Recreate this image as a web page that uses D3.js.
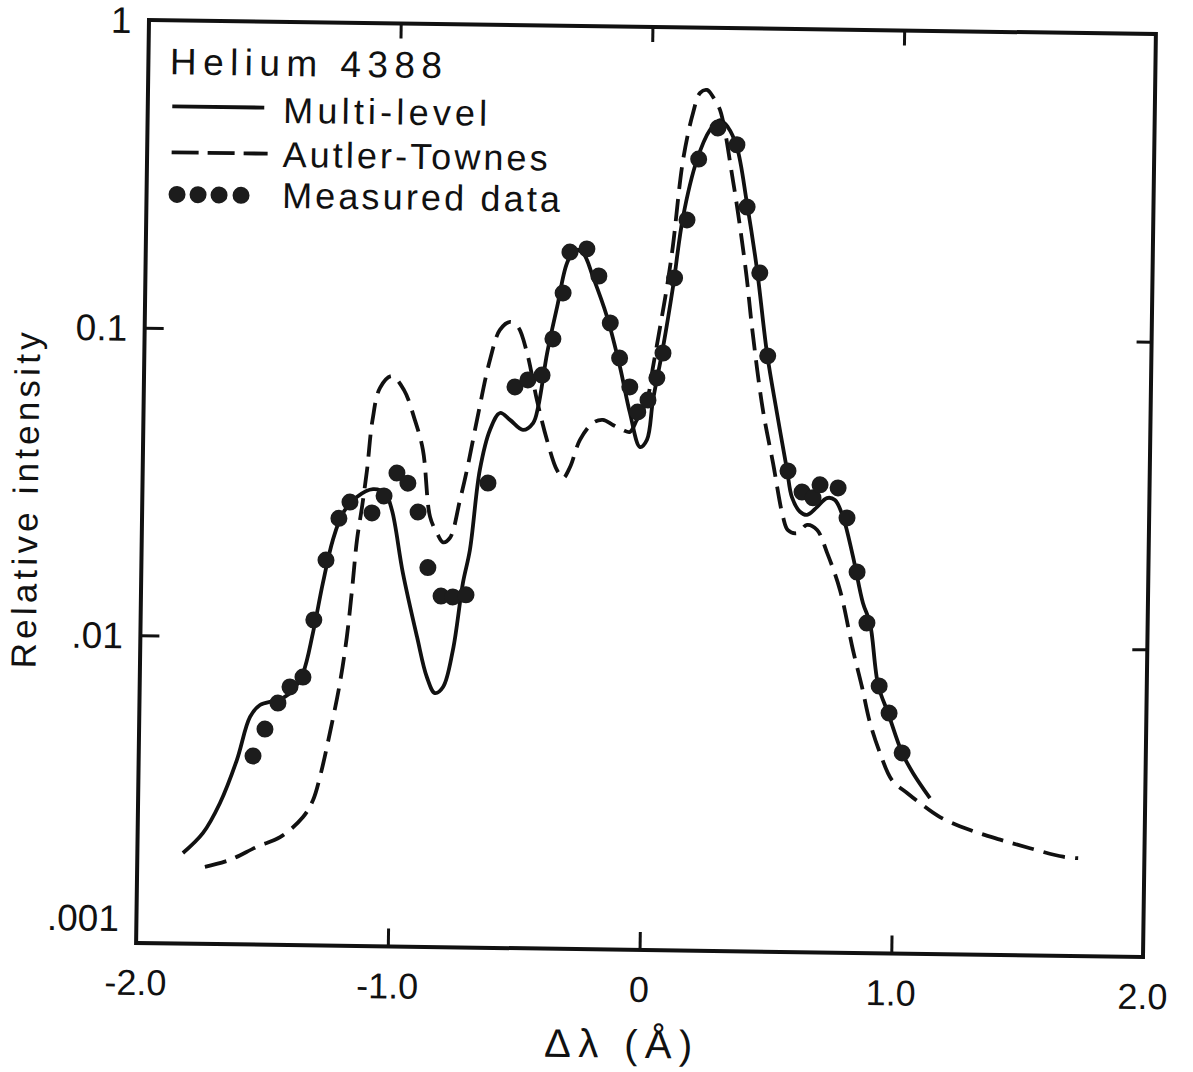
<!DOCTYPE html>
<html>
<head>
<meta charset="utf-8">
<script src="https://cdn.jsdelivr.net/npm/d3@7"></script>
<style>
  body { margin: 0; background: #fff; }
  svg { display: block; }
  text { font-family: "Liberation Sans", Arial, sans-serif; fill: #111; }
</style>
</head>
<body>
<svg id="chart" width="1193" height="1072"></svg>
<script>
// Helium 4388 line profile
var multiLevel = [
  [-1.819, 0.00197], [-1.741, 0.00229], [-1.675, 0.00287], [-1.610, 0.00397],
  [-1.560, 0.00549], [-1.521, 0.00601], [-1.470, 0.00620], [-1.430, 0.00635],
  [-1.391, 0.00675], [-1.352, 0.00767], [-1.315, 0.01035], [-1.278, 0.01508],
  [-1.241, 0.0208], [-1.202, 0.0255], [-1.148, 0.0288], [-1.084, 0.0306],
  [-1.036, 0.0297], [-1.008, 0.0262], [-0.961, 0.0164], [-0.901, 0.01016],
  [-0.860, 0.00754], [-0.827, 0.00669], [-0.795, 0.00701], [-0.758, 0.00925],
  [-0.722, 0.01529], [-0.696, 0.0196], [-0.661, 0.0357], [-0.623, 0.0482],
  [-0.584, 0.0548], [-0.544, 0.0521], [-0.492, 0.0484], [-0.452, 0.0510],
  [-0.433, 0.0575], [-0.400, 0.0863], [-0.363, 0.122], [-0.326, 0.1696],
  [-0.295, 0.187], [-0.263, 0.183], [-0.222, 0.153], [-0.164, 0.1137],
  [-0.110, 0.0783], [-0.068, 0.0556], [-0.026, 0.0431], [0.001, 0.0455],
  [0.023, 0.0614], [0.060, 0.0913], [0.096, 0.1433], [0.132, 0.242],
  [0.184, 0.3715], [0.234, 0.4656], [0.273, 0.502], [0.305, 0.477],
  [0.342, 0.411], [0.385, 0.2707], [0.429, 0.1642], [0.473, 0.0883],
  [0.516, 0.0564], [0.559, 0.0369], [0.580, 0.0301], [0.613, 0.0270],
  [0.641, 0.0264], [0.680, 0.0280], [0.719, 0.0300], [0.751, 0.0296],
  [0.784, 0.0261], [0.826, 0.0194], [0.868, 0.01373], [0.897, 0.01183],
  [0.933, 0.00744], [0.974, 0.00604], [1.032, 0.00449], [1.076, 0.00387],
  [1.145, 0.00321]
];

var autlerTownes = [
  [-1.731, 0.00178], [-1.632, 0.00188], [-1.525, 0.00208], [-1.434, 0.00224],
  [-1.344, 0.00261], [-1.305, 0.00297], [-1.279, 0.00353], [-1.242, 0.00491],
  [-1.205, 0.00714], [-1.180, 0.01009], [-1.162, 0.01435], [-1.145, 0.0209],
  [-1.127, 0.0267], [-1.109, 0.0353], [-1.090, 0.0513], [-1.062, 0.0653],
  [-1.016, 0.0714], [-0.967, 0.0645], [-0.922, 0.0516], [-0.888, 0.0412],
  [-0.856, 0.0250], [-0.828, 0.0222], [-0.803, 0.0207], [-0.776, 0.0214],
  [-0.738, 0.0285], [-0.712, 0.0357], [-0.675, 0.0519], [-0.627, 0.0814],
  [-0.589, 0.102], [-0.549, 0.1084], [-0.517, 0.1045], [-0.480, 0.0861],
  [-0.438, 0.0606], [-0.396, 0.0450], [-0.355, 0.0360], [-0.330, 0.0339],
  [-0.303, 0.0368], [-0.265, 0.0452], [-0.214, 0.0514], [-0.175, 0.0526],
  [-0.135, 0.0507], [-0.095, 0.0489], [-0.067, 0.0482], [-0.040, 0.0528],
  [-0.001, 0.0613], [0.021, 0.0785], [0.047, 0.106], [0.072, 0.143],
  [0.093, 0.1933], [0.129, 0.371], [0.166, 0.528], [0.193, 0.614],
  [0.220, 0.628], [0.245, 0.596], [0.273, 0.5415], [0.328, 0.321],
  [0.359, 0.226], [0.388, 0.1556], [0.412, 0.107], [0.460, 0.0576],
  [0.503, 0.0388], [0.546, 0.0259], [0.566, 0.0235], [0.602, 0.0230],
  [0.642, 0.0245], [0.682, 0.0236], [0.723, 0.0199], [0.776, 0.0151],
  [0.831, 0.00965], [0.869, 0.00732], [0.903, 0.00560], [0.944, 0.00448],
  [0.993, 0.00366], [1.054, 0.00333], [1.106, 0.00309], [1.186, 0.00279],
  [1.306, 0.00254], [1.426, 0.00237], [1.545, 0.00223], [1.677, 0.00210],
  [1.737, 0.00208]
];

var measured = [
  [-1.546, 0.00410], [-1.500, 0.00502], [-1.450, 0.00611], [-1.403, 0.00690],
  [-1.352, 0.00744], [-1.312, 0.01142], [-1.267, 0.0179], [-1.218, 0.0245],
  [-1.175, 0.0277], [-1.087, 0.0256], [-1.040, 0.0291], [-0.990, 0.0346],
  [-0.946, 0.0321], [-0.904, 0.0259], [-0.862, 0.0171], [-0.808, 0.01384],
  [-0.761, 0.01376], [-0.709, 0.0140], [-0.628, 0.0324], [-0.526, 0.0667],
  [-0.475, 0.0704], [-0.419, 0.0731], [-0.378, 0.0959], [-0.340, 0.1354],
  [-0.315, 0.184], [-0.248, 0.1888], [-0.199, 0.1543], [-0.151, 0.1087],
  [-0.112, 0.0837], [-0.070, 0.0675], [-0.037, 0.0560], [0.003, 0.0613],
  [0.037, 0.0724], [0.060, 0.0873], [0.102, 0.1533], [0.148, 0.237],
  [0.191, 0.374], [0.266, 0.473], [0.342, 0.418], [0.386, 0.2627],
  [0.440, 0.1606], [0.476, 0.0864], [0.563, 0.0366], [0.620, 0.0313],
  [0.664, 0.0300], [0.691, 0.0331], [0.763, 0.0324], [0.800, 0.0259],
  [0.843, 0.0173], [0.885, 0.01183], [0.937, 0.00739], [0.978, 0.00604],
  [1.032, 0.00449]
];

var xTicks = [-2, -1, 0, 1, 2];
var xTickLabels = ["-2.0", "-1.0", "0", "1.0", "2.0"];
var yTicks = [1, 0.1, 0.01, 0.001];
var yTickLabels = ["1", "0.1", ".01", ".001"];
var legendLabels = ["Multi-level", "Autler-Townes", "Measured data"];

var plotLeft = 142.5, plotRight = 1149.5, plotTop = 27, plotBottom = 950;

var svg = d3.select("#chart");

// the scanned figure sits slightly tilted on the page
var g = svg.append("g")
    .attr("transform", "rotate(0.8, 646, 488)");

var x = d3.scaleLinear()
    .domain([-2, 2])
    .range([plotLeft, plotRight]);

var y = d3.scaleLog()
    .domain([0.001, 1])
    .range([plotBottom, plotTop]);

// frame
g.append("rect")
    .attr("x", plotLeft)
    .attr("y", plotTop)
    .attr("width", plotRight - plotLeft)
    .attr("height", plotBottom - plotTop)
    .attr("fill", "none")
    .attr("stroke", "#111")
    .attr("stroke-width", 4);

// inward ticks on all four sides
var innerX = xTicks.slice(1, -1);
var innerY = yTicks.slice(1, -1);

g.append("g")
    .attr("transform", "translate(0," + plotBottom + ")")
    .call(d3.axisBottom(x).tickValues(innerX).tickSize(-18).tickFormat(""))
    .call(function (a) { a.select(".domain").remove(); });

g.append("g")
    .attr("transform", "translate(0," + plotTop + ")")
    .call(d3.axisTop(x).tickValues(innerX).tickSize(-15).tickFormat(""))
    .call(function (a) { a.select(".domain").remove(); });

g.append("g")
    .attr("transform", "translate(" + plotLeft + ",0)")
    .call(d3.axisLeft(y).tickValues(innerY).tickSize(-19).tickFormat(""))
    .call(function (a) { a.select(".domain").remove(); });

g.append("g")
    .attr("transform", "translate(" + plotRight + ",0)")
    .call(d3.axisRight(y).tickValues(innerY).tickSize(-15).tickFormat(""))
    .call(function (a) { a.select(".domain").remove(); });

g.selectAll(".tick line")
    .attr("stroke", "#111")
    .attr("stroke-width", 3);

// tick labels
g.selectAll(".xlab")
    .data(xTicks)
    .enter().append("text")
    .attr("class", "xlab")
    .attr("x", function (d) { return x(d); })
    .attr("y", 1002)
    .attr("text-anchor", "middle")
    .attr("font-size", 36)
    .text(function (d, i) { return xTickLabels[i]; });

g.selectAll(".ylab")
    .data(yTicks)
    .enter().append("text")
    .attr("class", "ylab")
    .attr("x", 125)
    .attr("y", function (d) { return d === 0.001 ? y(d) - 25 : y(d); })
    .attr("dy", "0.36em")
    .attr("text-anchor", "end")
    .attr("font-size", 37)
    .text(function (d, i) { return yTickLabels[i]; });

// axis titles
g.append("text")
    .attr("x", 626)
    .attr("y", 1058)
    .attr("text-anchor", "middle")
    .attr("font-size", 40)
    .attr("textLength", 148)
    .text("\u0394\u03bb (\u00c5)");

g.append("text")
    .attr("transform", "translate(38,509) rotate(-90)")
    .attr("text-anchor", "middle")
    .attr("font-size", 35)
    .attr("textLength", 336)
    .text("Relative intensity");

// curves
var line = d3.line()
    .x(function (d) { return x(d[0]); })
    .y(function (d) { return y(d[1]); })
    .curve(d3.curveCatmullRom.alpha(0.5));

g.append("path")
    .datum(autlerTownes)
    .attr("d", line)
    .attr("fill", "none")
    .attr("stroke", "#111")
    .attr("stroke-width", 3.8)
    .attr("stroke-dasharray", "22,10");

g.append("path")
    .datum(multiLevel)
    .attr("d", line)
    .attr("fill", "none")
    .attr("stroke", "#111")
    .attr("stroke-width", 3.8);

g.selectAll(".dot")
    .data(measured)
    .enter().append("circle")
    .attr("class", "dot")
    .attr("cx", function (d) { return x(d[0]); })
    .attr("cy", function (d) { return y(d[1]); })
    .attr("r", 8.5)
    .attr("fill", "#1c1c1c");

// legend
g.append("text")
    .attr("x", 164)
    .attr("y", 81)
    .attr("font-size", 37)
    .attr("textLength", 272)
    .text("Helium 4388");

g.append("line")
    .attr("x1", 167).attr("x2", 259)
    .attr("y1", 113).attr("y2", 113)
    .attr("stroke", "#111")
    .attr("stroke-width", 3.8);

g.append("line")
    .attr("x1", 167).attr("x2", 263)
    .attr("y1", 159).attr("y2", 159)
    .attr("stroke", "#111")
    .attr("stroke-width", 3.8)
    .attr("stroke-dasharray", "27,9");

g.selectAll(".legdot")
    .data([173, 194, 215, 237])
    .enter().append("circle")
    .attr("class", "legdot")
    .attr("cx", function (d) { return d; })
    .attr("cy", 201)
    .attr("r", 8.5)
    .attr("fill", "#1c1c1c");

var legendY = [128, 172, 213];
var legendW = [204, 265, 278];
g.selectAll(".legtext")
    .data(legendLabels)
    .enter().append("text")
    .attr("class", "legtext")
    .attr("x", 278)
    .attr("y", function (d, i) { return legendY[i]; })
    .attr("font-size", 36)
    .attr("textLength", function (d, i) { return legendW[i]; })
    .text(function (d) { return d; });
</script>
</body>
</html>
